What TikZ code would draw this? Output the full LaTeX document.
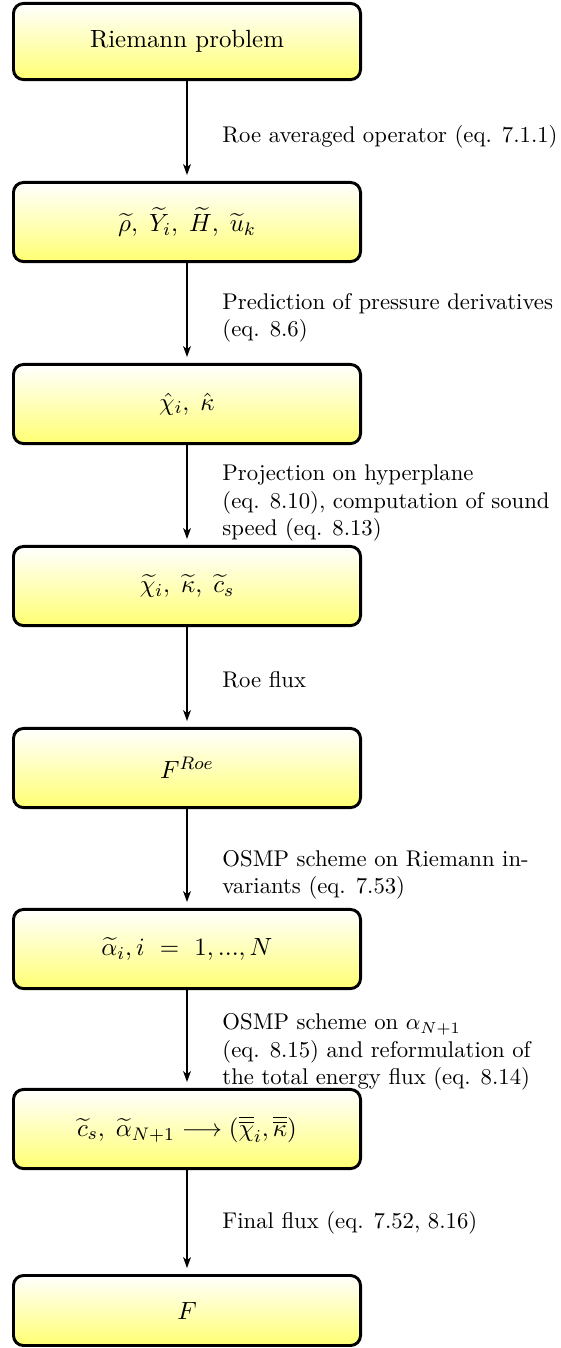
\documentclass[tikz,border=0pt]{standalone}
\usepackage{amsmath}
\usetikzlibrary{arrows.meta,shadings}
\begin{document}
\begin{tikzpicture}[x=0.44pt,y=-0.44pt,
  box/.style={draw=black, line width=1.3pt, rounded corners=4.4pt,
    top color=white, bottom color=yellow!55, minimum width=152.7pt,
    minimum height=34.8pt, inner sep=2pt, font=\fontsize{10.95}{13.6}\selectfont},
  lbl/.style={anchor=west, align=left, inner sep=0pt, font=\normalsize},
  conn/.style={line width=0.65pt, -{Stealth[length=4.8pt,width=3.4pt,inset=1.3pt]}, shorten >=2.6pt}]
\useasboundingbox (0,0) rectangle (561,1348);
\node[box, minimum height=33.5pt] (b1) at (187,41.5) {Riemann problem};
\node[box] (b2) at (187,222) {$\widetilde{\rho},\; \widetilde{Y}_i,\; \widetilde{H},\; \widetilde{u}_k$};
\node[box] (b3) at (187,404) {$\hat{\chi}_i,\; \hat{\kappa}$};
\node[box] (b4) at (187,586) {$\widetilde{\chi}_i,\; \widetilde{\kappa},\; \widetilde{c}_s$};
\node[box] (b5) at (187,768) {$F^{Roe}$};
\node[box] (b6) at (187,949) {$\widetilde{\alpha}_i, i\ =\ 1, ..., N$};
\node[box] (b7) at (187,1129) {$\widetilde{c}_s,\; \widetilde{\alpha}_{N+1} \longrightarrow (\overline{\overline{\chi}}_i, \overline{\overline{\kappa}})$};
\node[box, minimum height=30.8pt] (b8) at (187,1310.5) {$F$};
\draw[conn] (b1) -- (b2);
\draw[conn] (b2) -- (b3);
\draw[conn] (b3) -- (b4);
\draw[conn] (b4) -- (b5);
\draw[conn] (b5) -- (b6);
\draw[conn] (b6) -- (b7);
\draw[conn] (b7) -- (b8);
\node[lbl] (l1) at (222,137) {Roe averaged operator (eq. 7.1.1)};
\node[lbl] (l2) at (222,318) {Prediction of pressure derivatives\\(eq. 8.6)};
\node[lbl] (l3) at (222,503) {Projection on hyperplane\\(eq. 8.10), computation of sound\\speed (eq. 8.13)};
\node[lbl] (l4) at (222,680) {Roe flux};
\node[lbl] (l5) at (222,875) {OSMP scheme on Riemann in-\\variants (eq. 7.53)};
\node[lbl] (l6) at (222,1052) {OSMP scheme on $\alpha_{N+1}$\\\makebox[0pt][l]{(eq. 8.15) and reformulation of}\phantom{the total energy flux (eq. 8.14)}\\the total energy flux (eq. 8.14)};
\node[lbl] (l7) at (222,1223) {Final flux (eq. 7.52, 8.16)};
\end{tikzpicture}
\end{document}
